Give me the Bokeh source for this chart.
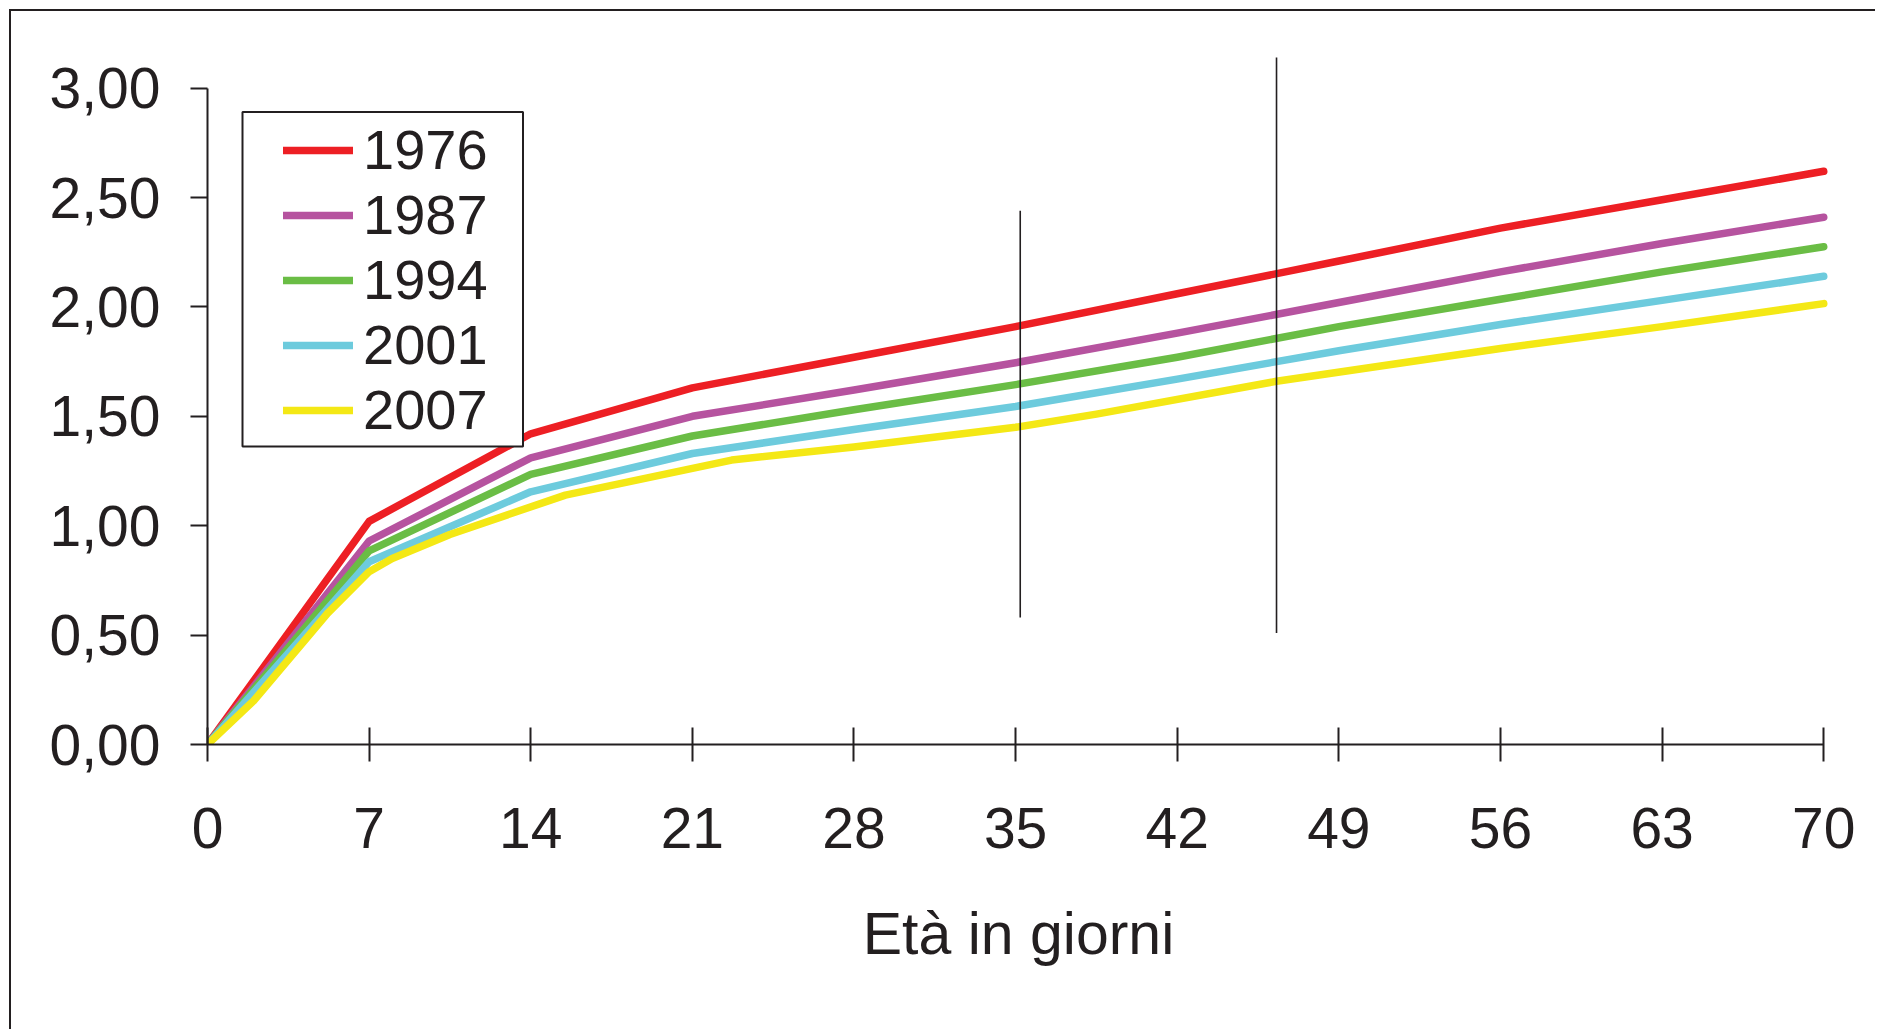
from bokeh.plotting import figure
from bokeh.models import Range1d, FixedTicker, Legend, LegendItem, BoxAnnotation
from bokeh.embed import file_html
from bokeh.resources import INLINE

# ---- data ----
days = [0, 7, 14, 21, 28, 35, 42, 49, 56, 63, 70]
y1976 = [0, 1.02, 1.42, 1.63, 1.77, 1.91, 2.06, 2.21, 2.36, 2.49, 2.62]
y1987 = [0, 0.93, 1.31, 1.50, 1.62, 1.745, 1.88, 2.02, 2.16, 2.29, 2.41]
y1994 = [0, 0.885, 1.235, 1.41, 1.53, 1.645, 1.77, 1.91, 2.035, 2.16, 2.275]
y2001 = [0, 0.835, 1.155, 1.33, 1.44, 1.545, 1.67, 1.80, 1.92, 2.03, 2.14]
days_2007 = [0, 2, 5.2, 7, 8, 10.5, 15.5, 22.7, 28, 35, 38.5, 46.3, 56, 63, 70]
y2007 = [0, 0.20, 0.60, 0.79, 0.85, 0.96, 1.14, 1.30, 1.36, 1.45, 1.51, 1.66, 1.81, 1.91, 2.015]

series_names = ["1976", "1987", "1994", "2001", "2007"]
series_colors = ["#ed1f24", "#b6539f", "#6abd45", "#6dcbdd", "#f4e815"]

vline_x = [35.2, 46.3]
vline_bottom = [0.58, 0.51]
vline_top = [2.44, 3.14]

x_ticks = [0, 7, 14, 21, 28, 35, 42, 49, 56, 63, 70]
y_ticks = [0, 0.5, 1.0, 1.5, 2.0, 2.5, 3.0]
y_tick_labels = ["0,00", "0,50", "1,00", "1,50", "2,00", "2,50", "3,00"]
x_label = "Età in giorni"

FONT = "Liberation Sans"
INK = "#231f20"

p = figure(width=1866, height=1020, output_backend="svg", toolbar_location=None,
           x_range=Range1d(0, 70.25), y_range=Range1d(0, 3.3),
           min_border_left=196, min_border_right=48, min_border_top=11,
           min_border_bottom=287)
p.styles = {"margin-left": "9px", "margin-top": "9px",
            "border-top": "2px solid #231f20", "border-left": "2px solid #231f20"}
p.outline_line_color = None
p.grid.visible = False
p.background_fill_color = "white"
p.border_fill_color = "white"

xs_all = [days, days, days, days, days_2007]
ys_all = [y1976, y1987, y1994, y2001, y2007]
items = []
for name, col, xs, ys in zip(series_names, series_colors, xs_all, ys_all):
    r = p.line(xs, ys, line_color=col, line_width=7.5, line_cap="round", line_join="round")
    items.append(LegendItem(label=name, renderers=[r]))

p.segment(x0=vline_x, y0=vline_bottom, x1=vline_x, y1=vline_top,
          line_color=INK, line_width=1.6)

# legend frame (screen units, relative to the plot frame)
legend_box = BoxAnnotation(left=35, right=315.5, bottom=298, top=632.5,
                           left_units="screen", right_units="screen",
                           bottom_units="screen", top_units="screen",
                           fill_color="white", fill_alpha=1.0,
                           line_color=INK, line_width=2, line_alpha=1.0)
p.add_layout(legend_box)

legend = Legend(items=items, location=(76, 302), glyph_width=70, glyph_height=64,
                label_height=64, spacing=0, padding=6, label_standoff=10,
                label_text_font=FONT, label_text_font_size="56px",
                label_text_color=INK, border_line_color=None,
                background_fill_alpha=0.0, margin=0)
p.add_layout(legend)

for ax in (p.xaxis[0], p.yaxis[0]):
    ax.axis_line_color = INK
    ax.axis_line_width = 2
    ax.major_tick_line_color = INK
    ax.major_tick_line_width = 2
    ax.minor_tick_line_color = None
    ax.major_label_text_font = FONT
    ax.major_label_text_font_size = "57px"
    ax.major_label_text_color = INK

p.xaxis.ticker = FixedTicker(ticks=x_ticks)
p.xaxis.bounds = (0, 70)
p.xaxis.major_tick_in = 17
p.xaxis.major_tick_out = 17
p.xaxis.major_label_standoff = 46
p.xaxis.axis_label = x_label
p.xaxis.axis_label_text_font = FONT
p.xaxis.axis_label_text_font_size = "59px"
p.xaxis.axis_label_text_font_style = "normal"
p.xaxis.axis_label_text_color = INK
p.xaxis.axis_label_standoff = 50

p.yaxis.ticker = FixedTicker(ticks=y_ticks)
p.yaxis.bounds = (0, 3)
p.yaxis.major_tick_in = 0
p.yaxis.major_tick_out = 17
p.yaxis.major_label_standoff = 30
p.yaxis.major_label_overrides = {t: s for t, s in zip(y_ticks, y_tick_labels)}

open("out.html", "w").write(file_html(p, INLINE))
